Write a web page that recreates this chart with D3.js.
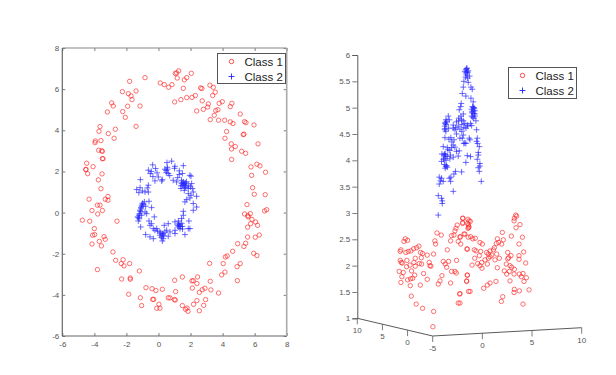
<!DOCTYPE html>
<html>
<head>
<meta charset="utf-8">
<script src="https://d3js.org/d3.v7.min.js"></script>
<style>
  html, body { margin: 0; padding: 0; background: #fff; }
  svg { display: block; }
  text { font-family: "Liberation Sans", Arial, sans-serif; }
</style>
</head>
<body>
<div id="chart"></div>
<script>
const legendLabels = ["Class 1", "Class 2"];

// Left plot: 2D values [x, y]
const flatClass1 = [
  [-0.84,6.56],[-1.80,6.38],[0.11,6.30],[0.36,6.22],[0.63,6.09],[-1.40,5.91],[-2.25,5.88],[-1.88,5.78],[-1.71,5.67],[-1.65,5.49],
  [-2.92,5.33],[-2.82,5.18],[-1.92,5.17],[-1.15,5.18],[-3.19,4.89],[-2.23,4.91],[-2.07,4.63],[-1.40,4.19],[-3.65,4.18],[-3.71,3.95],
  [-2.69,4.05],[-3.13,3.84],[-3.59,3.50],[-2.77,3.61],[-3.94,3.48],[-3.96,3.40],[-3.73,3.03],[-3.54,3.00],[-3.50,2.98],[-3.46,2.62],
  [-3.50,2.62],[-4.48,2.40],[-4.08,2.23],[-4.52,2.10],[-4.54,2.09],[-4.42,1.89],[-3.52,1.88],[-3.75,1.59],[-3.59,1.16],[-3.15,0.78],
  [-4.33,0.65],[-3.32,0.65],[-3.15,0.60],
  [1.26,6.89],[1.13,6.79],[1.05,6.76],[2.05,6.77],[1.76,6.56],[1.17,6.54],[1.61,6.45],[0.84,6.22],[1.55,6.04],[3.21,6.19],
  [3.42,6.09],[2.63,6.06],[2.71,6.03],[3.54,5.85],[3.38,5.69],[2.30,5.69],[2.09,5.60],[1.76,5.59],[1.40,5.49],[1.01,5.38],
  [2.73,5.43],[3.98,5.39],[3.79,5.31],[3.11,5.28],[4.58,5.31],[4.48,5.15],[3.07,5.13],[2.80,5.02],[3.71,5.00],[3.57,4.96],
  [2.38,4.94],[5.10,4.79],[3.48,4.73],[3.23,4.52],[3.75,4.49],[4.13,4.49],[4.48,4.41],[4.65,4.33],[5.37,4.42],[5.46,4.37],
  [5.96,4.26],[4.25,3.94],[5.33,3.81],[5.29,3.79],[4.15,3.61],[6.21,3.34],[4.54,3.34],[4.79,3.21],[4.56,3.09],[5.19,2.98],
  [5.44,2.88],[4.56,2.58],[6.14,2.35],[6.33,2.27],[5.77,2.22],[6.68,1.96],[5.81,1.81],[5.87,1.21],[5.98,0.89],[6.66,0.87],
  [-3.81,0.36],[-3.65,0.36],[-4.15,0.10],[-3.50,0.10],[-3.79,-0.07],[-4.75,-0.37],[-4.29,-0.42],[-2.59,-0.42],[-4.00,-0.78],[-4.11,-1.10],
  [-3.98,-1.07],[-3.40,-1.17],[-3.32,-1.30],[-3.69,-1.40],[-4.15,-1.53],[-3.56,-1.62],[-2.84,-1.91],[-2.67,-2.32],[-2.21,-2.29],[-2.32,-2.48],
  [-1.80,-2.48],[-2.15,-2.59],[-3.81,-2.77],[-1.19,-2.84],[-2.30,-3.23],[-1.76,-3.18],[-1.76,-3.24],[-0.78,-3.65],[-0.40,-3.70],[-0.16,-3.79],
  [0.24,-3.73],[-1.86,-3.97],[-1.13,-4.14],[0.61,-4.14],[-0.36,-4.22],[-0.30,-4.22],[-1.05,-4.52],[0.03,-4.46],[-0.11,-4.65],[0.09,-4.65],
  [5.52,0.39],[6.75,0.14],[6.62,0.08],[5.37,-0.07],[5.73,-0.05],[5.58,-0.15],[5.60,-0.21],[5.83,-0.33],[6.06,-0.46],[6.18,-0.62],
  [5.75,-0.54],[5.56,-0.71],[5.56,-1.19],[6.04,-1.20],[6.29,-1.09],[4.94,-1.51],[5.44,-1.49],[5.33,-1.65],[4.63,-1.88],[5.94,-1.98],
  [6.14,-2.09],[4.29,-2.11],[4.17,-2.16],[3.19,-2.47],[4.04,-2.48],[5.10,-2.48],[4.90,-2.63],[4.15,-2.89],[3.94,-3.03],[1.01,-3.29],
  [1.49,-3.13],[2.44,-3.13],[2.09,-3.32],[2.17,-3.31],[2.40,-3.45],[3.23,-3.34],[4.92,-3.31],[2.11,-3.67],[2.90,-3.68],[2.73,-3.75],
  [2.55,-3.88],[3.27,-3.76],[3.75,-3.91],[1.07,-3.84],[0.72,-4.15],[0.99,-4.23],[1.05,-4.25],[2.40,-4.28],[2.94,-4.23],[2.19,-4.46],
  [2.82,-4.51],[1.49,-4.52],[1.78,-4.64],[1.69,-4.70],[1.84,-4.80],[2.55,-4.77]
];
const flatClass2 = [
  [0.82,2.50],[0.53,2.43],[1.03,2.25],[-0.36,2.32],[1.55,2.28],[-0.63,2.06],[-0.51,1.90],[-0.18,2.14],[-0.09,1.93],[0.40,2.11],
  [0.57,2.11],[0.49,1.94],[0.61,1.90],[1.30,2.03],[1.49,1.90],[1.96,1.81],[2.03,1.77],[-0.01,1.73],[-1.13,1.60],[0.24,1.60],
  [0.20,1.54],[-0.22,1.54],[0.92,1.57],[1.13,1.49],[1.44,1.57],[1.55,1.49],[1.61,1.41],[1.49,1.33],[1.69,1.44],[1.86,1.33],
  [2.07,1.41],[-0.63,1.33],[-1.15,1.21],[-1.36,1.12],[-1.01,1.05],[-0.63,1.00],[-0.84,1.00],[-1.22,0.97],[1.86,1.17],[1.40,1.17],
  [1.65,1.21],[2.11,1.17],[1.61,1.08],[1.86,0.92],[2.17,1.00],[2.03,0.84],[2.38,0.79],[1.96,0.71],[1.76,0.63],[-0.88,0.52],
  [-0.59,0.55],[-1.05,0.36],[-1.09,0.24],[1.65,0.52],[2.17,0.44],[2.38,0.27],[-0.80,0.31],[-0.43,0.24],[-1.15,0.11],[-0.84,0.03],
  [2.17,0.11],[1.55,0.06],[-1.22,-0.13],[-1.05,-0.13],[-0.74,-0.05],[-1.30,-0.21],[1.55,-0.13],[-0.26,-0.21],[-1.26,-0.41],[-0.59,-0.41],
  [1.44,-0.29],[1.24,-0.41],[1.90,-0.41],[-1.11,-0.70],[-0.43,-0.54],[0.61,-0.54],[1.03,-0.45],[1.34,-0.57],[1.49,-0.67],[1.86,-0.78],
  [1.24,-0.70],[1.96,-0.78],[-0.53,-0.62],[-0.32,-0.78],[-0.11,-0.78],[0.09,-0.94],[0.36,-0.62],[0.51,-0.86],[0.72,-0.94],[1.03,-0.86],
  [1.34,-0.78],[0.09,-1.10],[0.26,-1.05],[0.61,-1.15],[0.30,-1.27],[0.24,-1.38],[-0.80,-1.07],[-0.53,-1.18],[-0.32,-1.27],[1.03,-1.02],
  [1.65,-1.07],[-0.22,-0.86],
  [1.52,1.45],[1.58,1.36],[1.45,1.42],[1.65,1.30],[1.70,1.25],[1.40,1.30],[1.75,1.50],[2.00,1.25],
  [-1.12,0.05],[-1.18,-0.05],[-1.08,0.18],[-1.02,0.30],[-1.25,-0.25],[-1.20,-0.30],[-1.00,0.45],[-0.95,0.40],
  [1.25,-0.55],[1.30,-0.65],[1.38,-0.68],[1.20,-0.62],[1.45,-0.52],[1.50,-0.80],
  [0.15,-1.00],[0.22,-1.15],[0.28,-1.02],[0.18,-1.22],[0.32,-1.12],[-0.05,-0.90],[0.40,-0.95],
  [0.55,2.20],[0.48,2.05],[-0.45,2.00],[1.00,2.15],[1.30,1.85],[1.20,1.70],[-0.70,1.20],[-0.35,1.75],[0.70,1.80]
];

// Right plot: 3D view, [across, z]. "across" is the sideways distance from the front corner of the floor
const depthClass1 = [
  [3.01,2.90],[3.52,2.88],[2.44,2.77],[2.31,2.71],[2.98,2.80],[3.48,2.80],[3.62,2.74],[3.52,2.71],[2.21,2.66],[0.40,2.62],
  [0.83,2.58],[2.11,2.58],[1.87,2.57],[3.21,2.60],[3.55,2.54],[-2.79,2.51],[-2.56,2.48],[-2.93,2.46],[2.74,2.54],[2.54,2.46],
  [0.19,2.47],[0.26,2.41],[1.77,2.47],[-1.65,2.34],[-1.42,2.37],[-1.95,2.32],[-2.22,2.28],[-2.49,2.27],[-3.23,2.30],[-3.30,2.27],
  [-1.25,2.25],[-1.05,2.23],[1.44,2.30],[3.45,2.31],[-2.73,2.25],[-0.58,2.20],[0.06,2.22],[-1.18,2.15],[-1.79,2.14],[-3.30,2.10],
  [-2.63,2.10],[-3.20,2.06],[-3.09,2.05],[-0.38,2.06],[-1.92,2.06],[-2.32,2.01],[-2.66,1.98],[-1.79,1.99],[-2.16,1.90],[-0.31,2.00],
  [-0.21,1.99],[-1.15,2.03],[-1.38,2.04],[1.03,2.08],[1.57,2.08],[1.23,2.03],[2.37,2.10],[1.37,1.97],[-3.40,1.89],[-2.99,1.87],
  [1.87,1.89],[2.21,1.89],[2.34,1.86],[-0.95,1.85],[-1.85,1.82],[-3.13,1.79],[0.90,1.81],[3.45,1.82],[-2.05,1.76],[-2.26,1.75],
  [-2.56,1.73],[-0.58,1.74],[-3.23,1.68],[0.53,1.65],[0.70,1.71],[1.77,1.67],[3.38,1.71],[-1.28,1.63],[-2.29,1.62],[2.68,1.46],
  [-2.19,1.42],[3.58,1.51],[-1.69,1.27],[2.54,1.29],[-1.05,1.19],[0.06,1.13],[-0.01,0.84],
  [8.32,2.96],[8.42,2.94],[8.19,2.90],[8.16,2.85],[8.76,2.78],[8.36,2.72],[2.99,2.90],[3.63,2.85],[2.99,2.82],[3.76,2.84],
  [3.56,2.77],[3.59,2.72],[3.12,2.60],[6.98,2.63],[7.89,2.56],[9.00,2.54],[2.72,2.55],[3.79,2.55],[4.26,2.52],[4.00,2.51],
  [6.48,2.51],[7.08,2.49],[6.61,2.44],[4.73,2.44],[4.97,2.41],[2.79,2.41],[6.91,2.41],[8.66,2.41],[6.38,2.42],[3.42,2.32],
  [6.18,2.34],[4.16,2.30],[4.33,2.28],[9.13,2.26],[4.80,2.27],[5.40,2.25],[5.74,2.28],[6.08,2.30],[7.52,2.25],[7.85,2.19],
  [7.62,2.15],[7.52,2.13],[8.66,2.19],[8.66,2.12],[4.20,2.14],[4.67,2.19],[5.57,2.22],[5.91,2.20],[6.41,2.22],[6.68,2.14],
  [5.74,2.17],[5.57,2.14],[5.24,2.11],[4.90,2.06],[4.50,2.04],[3.93,2.01],[4.73,2.00],[4.93,1.95],[5.47,2.03],[6.24,2.11],
  [9.33,2.05],[7.38,2.03],[6.48,1.96],[7.75,2.00],[7.92,1.97],[8.19,1.93],[7.69,1.89],[7.18,1.90],[7.42,1.84],[8.16,1.84],
  [8.69,1.84],[9.06,1.85],[8.89,1.79],[9.40,1.77],[3.46,1.82],[3.39,1.70],[7.75,1.71],[9.16,1.70],[6.34,1.70],[5.74,1.67],
  [5.47,1.63],[5.10,1.57],[3.73,1.51],[8.19,1.55],[8.69,1.52],[8.16,1.49],[9.67,1.54],[2.72,1.47],[7.02,1.41],[6.88,1.32],
  [9.06,1.27],[2.72,1.29]
];
const depthClass2 = [
  [3.42,5.75],[3.31,5.72],[3.55,5.70],[3.21,5.69],[3.48,5.67],[3.68,5.60],[3.28,5.58],[3.48,5.56],[3.11,5.50],[3.55,5.48],
  [3.05,5.39],[3.82,5.39],[3.95,5.35],[2.95,5.27],[3.31,5.22],[3.82,5.18],[4.05,5.11],[2.84,5.08],[2.78,5.02],[4.05,5.00],
  [4.15,4.98],[3.89,4.97],[4.22,4.94],[2.64,4.96],[3.92,4.92],[4.12,4.89],[3.89,4.84],[4.22,4.84],[3.05,4.88],[2.81,4.84],
  [1.54,4.84],[2.04,4.67],[1.30,4.77],[1.64,4.77],[2.37,4.73],[2.58,4.75],[2.88,4.77],[3.05,4.75],[4.32,4.75],[3.78,4.70],
  [1.23,4.70],[1.20,4.65],[1.57,4.61],[2.04,4.61],[2.54,4.65],[3.45,4.67],[3.31,4.61],[3.89,4.66],[4.39,4.58],[2.21,4.58],
  [2.71,4.59],[3.05,4.48],[1.30,4.55],[2.37,4.50],[1.80,4.43],[1.20,4.43],[2.71,4.42],[3.65,4.42],[3.72,4.39],[2.11,4.39],
  [4.46,4.42],[4.39,4.36],[4.49,4.32],[4.66,4.26],[3.31,4.32],[2.04,4.29],[1.87,4.24],[2.21,4.25],[1.44,4.24],[1.03,4.26],
  [2.37,4.17],[1.70,4.19],[2.64,4.18],[4.56,4.15],[4.56,4.10],[0.90,4.12],[1.23,4.12],[1.44,4.07],[1.13,4.04],[1.70,4.03],
  [2.04,4.06],[2.54,4.08],[4.46,4.02],[3.45,4.09],[3.78,4.07],[0.86,3.98],[3.31,3.96],[4.72,3.94],[4.72,3.89],[1.30,3.88],
  [1.44,3.87],[4.56,3.86],[4.66,3.79],[2.27,3.79],[2.11,3.74],[2.88,3.78],[1.80,3.68],[1.64,3.66],[0.63,3.68],[0.86,3.66],
  [1.03,3.60],[0.76,3.61],[0.63,3.55],[1.77,3.60],[4.86,3.60],[2.04,3.41],[0.53,3.33],[0.86,3.28],[0.93,3.23],[0.93,3.18],[0.53,2.96],
  [3.38,5.74],[3.45,5.68],[3.28,5.66],[3.36,5.62],
  [1.25,4.72],[1.32,4.68],[1.18,4.60],[1.22,4.58],[1.38,4.74],
  [1.10,4.10],[1.18,4.12],[1.25,4.08],[1.05,4.02],[1.30,4.00],[1.15,3.92],[1.22,3.85],[1.35,3.90],
  [3.98,5.02],[4.05,4.94],[4.12,5.00],[3.95,4.90],[4.20,4.88],[4.00,4.82],[4.10,4.80],
  [3.20,4.70],[3.10,4.62],[2.90,4.68],[2.60,4.80],[2.30,4.62],[2.90,4.55],[1.60,4.40],[1.90,4.35],[1.50,4.20],[1.75,4.10],
  [3.20,4.33],[3.10,4.32],[3.50,4.65],[2.95,4.42]
];

const flatXTicks = [-6, -4, -2, 0, 2, 4, 6, 8];
const flatYTicks = [-6, -4, -2, 0, 2, 4, 6, 8];
const depthZTicks = [1, 1.5, 2, 2.5, 3, 3.5, 4, 4.5, 5, 5.5, 6];
const floorTicks = [-5, 0, 5, 10];

// Styling
const circleColor = "#ff2020";
const plusColor = "#2424ff";
const axisColor = "#5a5a5a";
const labelColor = "#555";
const tickFontSize = "8px";
const legendFontSize = "11.5px";
const plusPath = "M-3,0H3M0,-3V3";

const svg = d3.select("#chart").append("svg").attr("width", 616).attr("height", 375);

function drawCircles(g, rows, xs, ys) {
  g.append("g").selectAll("circle")
    .data(rows)
    .join("circle")
    .attr("cx", d => xs(d[0]))
    .attr("cy", d => ys(d[1]))
    .attr("r", 2.2)
    .attr("fill", "none")
    .attr("stroke", circleColor)
    .attr("stroke-opacity", 0.8)
    .attr("stroke-width", 0.8);
}

function drawPluses(g, rows, xs, ys) {
  g.append("g").selectAll("path")
    .data(rows)
    .join("path")
    .attr("transform", d => `translate(${xs(d[0])},${ys(d[1])})`)
    .attr("d", plusPath)
    .attr("fill", "none")
    .attr("stroke", plusColor)
    .attr("stroke-opacity", 0.75)
    .attr("stroke-width", 0.9);
}

function drawLegend(box) {
  const g = svg.append("g");
  g.append("rect")
    .attr("x", box.x).attr("y", box.y)
    .attr("width", box.w).attr("height", box.h)
    .attr("fill", "#fff")
    .attr("stroke", "#555")
    .attr("stroke-width", 1);
  const rowY = [box.y + 8, box.y + 23];
  g.append("circle")
    .attr("cx", box.x + 14).attr("cy", rowY[0]).attr("r", 2.2)
    .attr("fill", "none").attr("stroke", circleColor).attr("stroke-width", 0.8);
  g.append("path")
    .attr("transform", `translate(${box.x + 14},${rowY[1]})`)
    .attr("d", plusPath).attr("fill", "none").attr("stroke", plusColor).attr("stroke-width", 0.9);
  g.selectAll("text")
    .data(legendLabels)
    .join("text")
    .attr("x", box.x + 27)
    .attr("y", (d, i) => rowY[i] + 4)
    .attr("font-size", legendFontSize)
    .attr("fill", "#222")
    .text(d => d);
}

function styleAxis(sel, showText) {
  sel.select(".domain").remove();
  sel.selectAll("line").attr("stroke", axisColor).attr("stroke-width", 0.8);
  sel.selectAll("text")
    .attr("fill", labelColor)
    .style("font-size", tickFontSize)
    .style("font-family", '"Liberation Sans", Arial, sans-serif')
    .style("display", showText ? null : "none");
}

// Left plot
const flatX = d3.scaleLinear().domain([-6, 8]).range([62.3, 286.7]);
const flatY = d3.scaleLinear().domain([-6, 8]).range([336, 48]);
const flat = svg.append("g");

flat.append("g").attr("transform", `translate(0,${flatY(-6)})`)
  .call(d3.axisBottom(flatX).tickValues(flatXTicks).tickSize(-3).tickPadding(5).tickFormat(d => d))
  .call(styleAxis, true);
flat.append("g").attr("transform", `translate(0,${flatY(8)})`)
  .call(d3.axisTop(flatX).tickValues(flatXTicks).tickSize(-3))
  .call(styleAxis, false);
flat.append("g").attr("transform", `translate(${flatX(-6)},0)`)
  .call(d3.axisLeft(flatY).tickValues(flatYTicks).tickSize(-3).tickPadding(3).tickFormat(d => d))
  .call(styleAxis, true);
flat.append("g").attr("transform", `translate(${flatX(8)},0)`)
  .call(d3.axisRight(flatY).tickValues(flatYTicks).tickSize(-3))
  .call(styleAxis, false);

// frame: the left and bottom edges are darker than the other two
const frameEdges = [
  { x1: -6, y1: -6, x2: -6, y2: 8, color: "#666", width: 1.2 },
  { x1: -6, y1: -6, x2: 8, y2: -6, color: "#666", width: 1.2 },
  { x1: -6, y1: 8, x2: 8, y2: 8, color: "#888", width: 1.2 },
  { x1: 8, y1: -6, x2: 8, y2: 8, color: "#aaa", width: 1.6 }
];
flat.selectAll(".edge")
  .data(frameEdges)
  .join("line")
  .attr("class", "edge")
  .attr("x1", d => flatX(d.x1)).attr("y1", d => flatY(d.y1))
  .attr("x2", d => flatX(d.x2)).attr("y2", d => flatY(d.y2))
  .attr("stroke", d => d.color)
  .attr("stroke-width", d => d.width);

drawCircles(flat, flatClass1, flatX, flatY);
drawPluses(flat, flatClass2, flatX, flatY);
drawLegend({ x: 217.5, y: 53.5, w: 68, h: 30 });

// Right plot
const acrossX = d3.scaleLinear().domain([0, 15]).range([433, 582]);
const depthZ = d3.scaleLinear().domain([1, 6]).range([318.3, 55]);
const depth = svg.append("g");

const zAxisG = depth.append("g").attr("transform", `translate(357.3,0)`)
  .call(d3.axisLeft(depthZ).tickValues(depthZTicks).tickSize(5).tickPadding(2).tickFormat(d => d));
zAxisG.select(".domain").attr("stroke", axisColor).attr("stroke-width", 1);
zAxisG.selectAll("line").attr("stroke", axisColor).attr("stroke-width", 0.8);
zAxisG.selectAll("text").attr("fill", labelColor).style("font-size", tickFontSize)
  .style("font-family", '"Liberation Sans", Arial, sans-serif');

// the two floor axes run at an angle, so each takes one scale per screen direction.
// they share the -5 corner, only the first one labels it
const floorAxes = [
  { px: d3.scaleLinear().domain([-5, 10]).range([432.7, 357.3]), py: d3.scaleLinear().domain([-5, 10]).range([336, 318.3]), labels: floorTicks },
  { px: d3.scaleLinear().domain([-5, 10]).range([432.7, 581.7]), py: d3.scaleLinear().domain([-5, 10]).range([336, 327.7]), labels: floorTicks.slice(1) }
];
floorAxes.forEach(axis => {
  const g = depth.append("g");
  g.append("line")
    .attr("x1", axis.px(-5)).attr("y1", axis.py(-5))
    .attr("x2", axis.px(10)).attr("y2", axis.py(10))
    .attr("stroke", axisColor).attr("stroke-width", 1);
  g.selectAll("line.tick")
    .data(axis.labels)
    .join("line")
    .attr("class", "tick")
    .attr("x1", d => axis.px(d)).attr("y1", d => axis.py(d))
    .attr("x2", d => axis.px(d)).attr("y2", d => axis.py(d) + 6)
    .attr("stroke", axisColor).attr("stroke-width", 0.8);
  g.selectAll("text")
    .data(axis.labels)
    .join("text")
    .attr("x", d => axis.px(d))
    .attr("y", d => axis.py(d) + 15)
    .attr("text-anchor", "middle")
    .attr("font-size", tickFontSize)
    .attr("fill", labelColor)
    .text(d => d);
});

drawCircles(depth, depthClass1, acrossX, depthZ);
drawPluses(depth, depthClass2, acrossX, depthZ);
drawLegend({ x: 508.5, y: 67.5, w: 68, h: 31 });
</script>
</body>
</html>
